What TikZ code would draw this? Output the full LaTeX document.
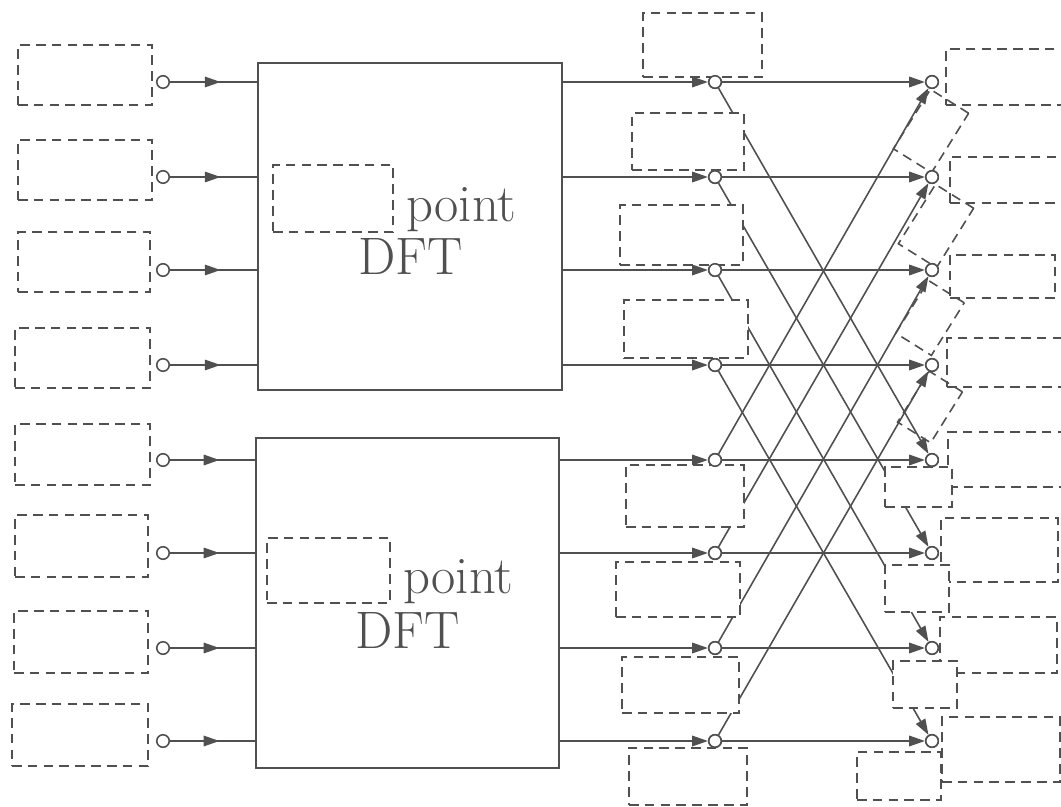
\documentclass[tikz,border=0pt]{standalone}
\usetikzlibrary{arrows.meta,decorations.markings,calc}
\definecolor{ink}{RGB}{80,80,80}
\begin{document}
\begin{tikzpicture}[x=0.02cm,y=-0.02cm,
  ln/.style={draw=ink, line width=0.9pt},
  sz/.style 2 args={minimum width=#1*0.02cm, minimum height=#2*0.02cm},
  lbl/.style={rectangle, draw=ink, dash pattern=on 5.5pt off 3.5pt, line width=0.9pt, fill=white, inner sep=0pt},
  rlbl/.style={rectangle, draw=ink, dash pattern=on 5.5pt off 3.5pt, line width=0.9pt, inner sep=0pt, rotate=-32},
  dftbox/.style={rectangle, draw=ink, line width=0.9pt, inner sep=0pt},
  cir/.style={circle, draw=ink, fill=white, line width=0.9pt, minimum size=0.25cm, inner sep=0pt},
  tip/.style={-{Triangle[length=9pt,width=6pt]}},
  midarrow/.style={postaction={decorate}, decoration={markings, mark=at position 0.58 with {\arrow[ink]{Triangle[length=9pt,width=6pt]}}}},
  big/.style={font=\fontsize{30}{36}\selectfont, text=ink, inner sep=0pt, anchor=base west}
]
\useasboundingbox (0,0) rectangle (1061,807);
\clip (0,0) rectangle (1061,807);

% input label boxes
\node[lbl, sz={134}{60}] (in0) at (85,75) {};
\node[lbl, sz={134}{60}] (in1) at (85,170) {};
\node[lbl, sz={132}{60}] (in2) at (84,262) {};
\node[lbl, sz={135}{60}] (in3) at (82.5,358) {};
\node[lbl, sz={135}{61}] (in4) at (82.5,454.5) {};
\node[lbl, sz={133}{62}] (in5) at (81.5,546) {};
\node[lbl, sz={134}{62}] (in6) at (81,642) {};
\node[lbl, sz={136}{62}] (in7) at (80,735) {};

% DFT boxes
\node[dftbox, sz={304}{327}] (dft1) at (410,226.5) {};
\node[dftbox, sz={303}{330}] (dft2) at (407.5,603) {};
\node[lbl, sz={120}{67}] (n1) at (333,198.5) {};
\node[lbl, sz={123}{65}] (n2) at (328.5,570.5) {};
\node[big] (pt1) at (406,222) {point};
\node[big] (df1) at (358,275) {DFT};
\node[big] (pt2) at (403,593) {point};
\node[big] (df2) at (355,648) {DFT};

% circles
\foreach \k/\y in {0/82,1/177,2/270,3/365,4/460,5/553,6/648,7/741}{
  \node[cir] (i\k) at (163,\y) {};
  \node[cir] (m\k) at (715,\y) {};
  \node[cir] (r\k) at (932,\y) {};
}

% input lines
\foreach \k in {0,1,2,3}{
  \draw[ln, midarrow] (i\k) -- (dft1.west |- i\k);
  \draw[ln, tip] (dft1.east |- m\k) -- (m\k);
}
\foreach \k in {4,5,6,7}{
  \draw[ln, midarrow] (i\k) -- (dft2.west |- i\k);
  \draw[ln, tip] (dft2.east |- m\k) -- (m\k);
}

% butterfly
\foreach \k in {0,...,7}{
  \draw[ln, tip] (m\k) -- (r\k);
}
\foreach \a/\b in {0/4,1/5,2/6,3/7}{
  \draw[ln, tip] (m\a) -- (r\b);
  \draw[ln, tip] (m\b) -- (r\a);
}

% middle label boxes
\node[lbl, sz={119}{64}] (w0) at (702.5,45) {};
\node[lbl, sz={112}{57}] (w1) at (688,141.5) {};
\node[lbl, sz={123}{60}] (w2) at (681.5,235) {};
\node[lbl, sz={124}{58}] (w3) at (686,329) {};
\node[lbl, sz={118}{62}] (w4) at (685,496) {};
\node[lbl, sz={124}{55}] (w5) at (678,589.5) {};
\node[lbl, sz={117}{56}] (w6) at (680.5,685) {};
\node[lbl, sz={118}{57}] (w7) at (688,776.5) {};

% output label boxes
\node[lbl, sz={129}{56}] (o0) at (1010.5,77) {};
\node[lbl, sz={125}{46}] (o1) at (1012.5,180) {};
\node[lbl, sz={105}{43}] (o2) at (1002.5,276.5) {};
\node[lbl, sz={128}{49}] (o3) at (1011,362.5) {};
\node[lbl, sz={127}{55}] (o4) at (1011.5,459.5) {};
\node[lbl, sz={117}{64}] (o5) at (999.5,550) {};
\node[lbl, sz={117}{56}] (o6) at (998.5,645) {};
\node[lbl, sz={118}{65}] (o7) at (1001,749.5) {};

% small boxes under right circles
\node[lbl, sz={67}{40}] (s4) at (918.5,487) {};
\node[lbl, sz={64}{47}] (s5) at (917,588.5) {};
\node[lbl, sz={64}{47}] (s6) at (925,684.5) {};
\node[lbl, sz={84}{48}] (s7) at (899,776) {};

% rotated boxes
\node[rlbl, sz={45}{70}] (t0) at (931,131) {};
\node[rlbl, sz={45}{70}] (t1) at (936,226) {};
\node[rlbl, sz={42}{62}] (t2) at (930,318) {};
\node[rlbl, sz={39}{60}] (t3) at (930,407) {};

% redraw circles on top
\foreach \k in {0,...,7}{
  \node[cir] at (m\k) {};
  \node[cir] at (r\k) {};
}
\end{tikzpicture}
\end{document}
